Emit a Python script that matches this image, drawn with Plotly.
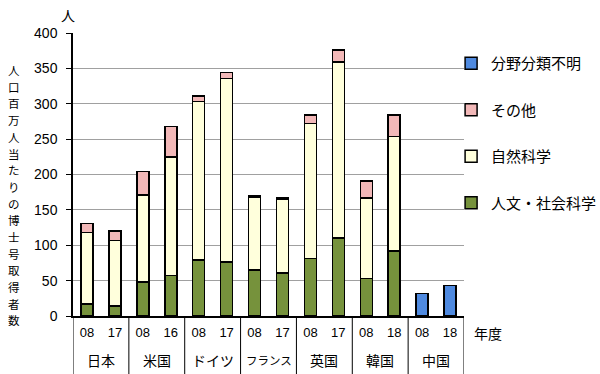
import plotly.graph_objects as go

countries = ["日本", "米国", "ドイツ", "フランス", "英国", "韓国", "中国"]
years = ["08", "17", "08", "16", "08", "17", "08", "17", "08", "17", "08", "18", "08", "18"]
humanities = [17, 14, 48, 57, 79, 76, 65, 61, 81, 110, 53, 92, None, None]
natural = [101, 93, 123, 168, 224, 260, 103, 104, 191, 249, 114, 162, None, None]
other = [13, 13, 33, 43, 8, 8, 2, 2, 12, 17, 24, 30, None, None]
unknown = [None, None, None, None, None, None, None, None, None, None, None, None, 32, 43]
yticks = [0, 50, 100, 150, 200, 250, 300, 350, 400]

names = ["人文・社会科学", "自然科学", "その他", "分野分類不明"]
colors = ["#76923C", "#FFFFDC", "#F2B8B8", "#4F8AE0"]
series = [humanities, natural, other, unknown]
ranks = [4, 3, 2, 1]

xs = list(range(len(years)))
JP = "Noto Sans CJK JP"
NUM = "Liberation Sans, Arial"

fig = go.Figure()
for i, (n, c, s) in enumerate(zip(names, colors, series)):
    fig.add_trace(go.Bar(
        x=xs, y=s, name=n, width=0.43,
        marker=dict(color=c, line=dict(color="black", width=1.5)),
        legendgroup=str(i), legendrank=ranks[i],
    ))

fig.update_layout(
    barmode="stack",
    width=600, height=374,
    margin=dict(l=73, r=136, t=33, b=58, autoexpand=False),
    plot_bgcolor="white", paper_bgcolor="white",
    showlegend=True,
    legend=dict(
        traceorder="grouped", tracegroupgap=24,
        x=0.967, xanchor="left", y=0.9505, yanchor="top",
        bgcolor="rgba(0,0,0,0)",
        font=dict(family=JP, size=15, color="black"),
        itemwidth=30,
    ),
    font=dict(family=JP, color="black"),
)

fig.update_yaxes(
    range=[0, 400], tickvals=yticks, ticktext=[str(v) for v in yticks],
    showgrid=True, gridcolor="#A0A0A0", gridwidth=1,
    showline=True, linecolor="black", linewidth=1.5,
    ticks="outside", ticklen=5, tickcolor="black",
    tickfont=dict(family=NUM, size=14, color="black"),
    ticklabelstandoff=6, zeroline=False,
)
fig.update_xaxes(
    range=[-0.5, 13.5], tickvals=xs, ticktext=years,
    showline=True, linecolor="black", linewidth=1.5,
    ticks="", tickfont=dict(family=NUM, size=13, color="black"),
    showgrid=False, zeroline=False, ticklabelstandoff=4,
)

# group separators
for k in range(len(countries) + 1):
    fig.add_shape(type="line", xref="x", yref="paper",
                  x0=-0.5 + 2 * k, x1=-0.5 + 2 * k, y0=0, y1=-0.21,
                  line=dict(color="black", width=1))

for k, c in enumerate(countries):
    size = 11.5 if len(c) > 3 else 14
    fig.add_annotation(x=0.5 + 2 * k, xref="x", y=-0.155, yref="paper",
                       text=c, showarrow=False, yanchor="middle",
                       font=dict(family=JP, size=size, color="black"))

fig.add_annotation(x=(472 - 73) / 391, xref="paper", y=(316 - 333) / 283, yref="paper",
                   text="年度", showarrow=False, xanchor="left", yanchor="middle",
                   font=dict(family=JP, size=14, color="black"))

fig.add_annotation(x=(68 - 73) / 391, xref="paper", y=(316 - 15) / 283, yref="paper",
                   text="人", showarrow=False, xanchor="center", yanchor="middle",
                   font=dict(family=JP, size=14, color="black"))

ylabel = "人口百万人当たりの博士号取得者数"
for i, ch in enumerate(ylabel):
    ypx = 70 + i * 16.7
    fig.add_annotation(x=(14 - 73) / 391, xref="paper", y=(316 - ypx) / 283, yref="paper",
                       text=ch, showarrow=False, xanchor="center", yanchor="middle",
                       font=dict(family=JP, size=11.5, color="black"))

fig.write_html("out.html", config={"displayModeBar": False},
               post_script="document.body.style.margin='0';")
